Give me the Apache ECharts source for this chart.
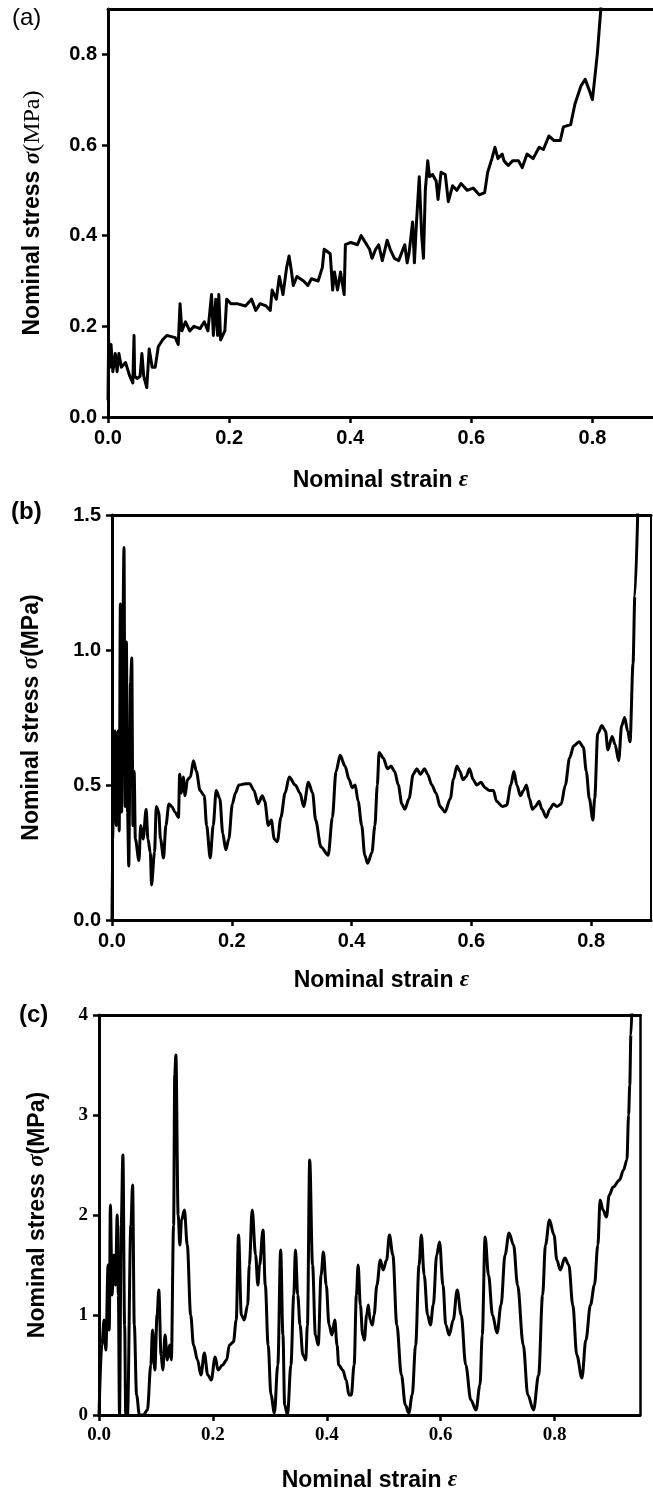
<!DOCTYPE html>
<html><head><meta charset="utf-8">
<script src="https://cdn.jsdelivr.net/npm/echarts@6/dist/echarts.min.js"></script>
<style>html,body{margin:0;padding:0;background:#fff}#c{width:653px;height:1493px}</style>
</head><body><div id="c"></div>
<script>
// ---- Panel (a) ----
const strainA = [0,0.001,0.003,0.005,0.008,0.012,0.015,0.018,0.022,0.029,0.036,0.041,0.043,0.044,0.048,0.053,0.056,0.059,0.064,0.068,0.073,0.078,0.083,0.09,0.097,0.111,0.116,0.119,0.122,0.128,0.135,0.142,0.152,0.159,0.165,0.171,0.174,0.178,0.181,0.183,0.186,0.193,0.196,0.203,0.213,0.227,0.237,0.244,0.251,0.261,0.268,0.271,0.278,0.283,0.289,0.295,0.299,0.302,0.306,0.312,0.323,0.33,0.336,0.347,0.354,0.357,0.367,0.371,0.374,0.379,0.384,0.39,0.392,0.401,0.412,0.418,0.425,0.432,0.436,0.442,0.447,0.453,0.461,0.466,0.473,0.48,0.49,0.494,0.497,0.503,0.506,0.509,0.514,0.518,0.521,0.524,0.528,0.531,0.536,0.542,0.545,0.55,0.557,0.562,0.569,0.576,0.583,0.593,0.603,0.613,0.622,0.627,0.634,0.639,0.644,0.651,0.654,0.661,0.668,0.678,0.684,0.692,0.702,0.712,0.719,0.728,0.736,0.747,0.752,0.764,0.771,0.781,0.788,0.795,0.8,0.808,0.815];
const stressA = [0.037,0.17,0.11,0.16,0.10,0.14,0.10,0.14,0.11,0.12,0.09,0.075,0.18,0.09,0.085,0.09,0.14,0.09,0.065,0.15,0.11,0.11,0.155,0.17,0.18,0.175,0.16,0.25,0.19,0.21,0.19,0.20,0.195,0.21,0.19,0.27,0.18,0.26,0.18,0.27,0.17,0.19,0.26,0.25,0.25,0.245,0.26,0.235,0.25,0.245,0.235,0.28,0.26,0.31,0.27,0.33,0.355,0.33,0.29,0.31,0.30,0.29,0.305,0.30,0.33,0.37,0.36,0.28,0.32,0.28,0.32,0.27,0.38,0.385,0.38,0.40,0.385,0.37,0.35,0.37,0.38,0.345,0.39,0.37,0.35,0.345,0.38,0.34,0.36,0.43,0.34,0.42,0.53,0.40,0.35,0.50,0.565,0.53,0.535,0.52,0.48,0.54,0.535,0.475,0.51,0.50,0.515,0.50,0.505,0.49,0.495,0.54,0.57,0.595,0.57,0.58,0.565,0.555,0.565,0.565,0.55,0.58,0.57,0.595,0.59,0.62,0.61,0.61,0.64,0.645,0.69,0.73,0.745,0.72,0.70,0.80,0.92];

// ---- Panel (b) ----
const strainB = [0,0.001,0.003,0.005,0.007,0.01,0.012,0.014,0.016,0.018,0.02,0.022,0.024,0.026,0.028,0.031,0.033,0.035,0.037,0.039,0.045,0.048,0.052,0.057,0.06,0.064,0.066,0.071,0.074,0.078,0.081,0.086,0.09,0.095,0.1,0.105,0.111,0.113,0.116,0.119,0.122,0.126,0.131,0.136,0.141,0.147,0.154,0.158,0.164,0.169,0.174,0.18,0.185,0.19,0.195,0.201,0.206,0.212,0.223,0.23,0.237,0.244,0.251,0.255,0.261,0.266,0.271,0.276,0.282,0.289,0.296,0.306,0.314,0.32,0.328,0.335,0.34,0.349,0.361,0.368,0.374,0.381,0.389,0.396,0.401,0.406,0.411,0.417,0.422,0.427,0.434,0.439,0.443,0.446,0.453,0.46,0.466,0.472,0.478,0.484,0.489,0.496,0.503,0.509,0.515,0.522,0.527,0.534,0.541,0.548,0.556,0.565,0.57,0.576,0.581,0.586,0.591,0.597,0.603,0.609,0.616,0.623,0.63,0.637,0.642,0.652,0.659,0.666,0.671,0.676,0.682,0.687,0.692,0.697,0.702,0.707,0.713,0.718,0.725,0.731,0.737,0.743,0.75,0.757,0.764,0.771,0.78,0.787,0.792,0.797,0.803,0.806,0.811,0.818,0.824,0.828,0.835,0.84,0.846,0.851,0.856,0.861,0.865,0.87,0.873,0.878];
const stressB = [0,0.3,0.5,0.7,0.35,0.7,0.33,1.17,0.4,1.05,1.38,0.42,1.03,0.4,0.2,0.88,0.97,0.35,0.55,0.3,0.22,0.35,0.3,0.41,0.3,0.25,0.13,0.25,0.42,0.4,0.3,0.23,0.35,0.43,0.42,0.4,0.38,0.54,0.47,0.53,0.46,0.52,0.53,0.59,0.55,0.48,0.46,0.35,0.23,0.35,0.48,0.45,0.32,0.26,0.3,0.43,0.47,0.5,0.505,0.505,0.48,0.43,0.46,0.44,0.35,0.37,0.3,0.29,0.38,0.47,0.53,0.5,0.47,0.42,0.51,0.47,0.37,0.27,0.24,0.38,0.55,0.61,0.57,0.52,0.49,0.5,0.44,0.35,0.24,0.21,0.25,0.35,0.5,0.62,0.6,0.56,0.57,0.55,0.5,0.43,0.41,0.45,0.54,0.56,0.54,0.56,0.54,0.5,0.47,0.42,0.4,0.45,0.52,0.57,0.55,0.52,0.53,0.56,0.52,0.5,0.51,0.49,0.48,0.48,0.44,0.42,0.425,0.5,0.55,0.5,0.46,0.48,0.5,0.45,0.41,0.42,0.44,0.41,0.38,0.41,0.43,0.42,0.43,0.5,0.6,0.645,0.66,0.64,0.55,0.45,0.37,0.45,0.69,0.72,0.7,0.63,0.68,0.65,0.59,0.72,0.75,0.7,0.66,0.95,1.2,1.52];

// ---- Panel (c) ----
const strainC = [0,0.005,0.009,0.012,0.016,0.018,0.02,0.023,0.026,0.029,0.032,0.034,0.036,0.039,0.042,0.045,0.047,0.05,0.056,0.059,0.062,0.066,0.071,0.078,0.085,0.091,0.094,0.098,0.102,0.105,0.109,0.112,0.116,0.12,0.124,0.127,0.131,0.133,0.135,0.139,0.142,0.145,0.15,0.155,0.161,0.166,0.173,0.179,0.185,0.191,0.197,0.204,0.209,0.217,0.224,0.229,0.236,0.241,0.245,0.25,0.255,0.261,0.264,0.269,0.275,0.279,0.282,0.288,0.292,0.297,0.302,0.308,0.314,0.319,0.323,0.326,0.331,0.337,0.342,0.345,0.349,0.353,0.358,0.363,0.366,0.37,0.375,0.38,0.385,0.39,0.394,0.399,0.404,0.409,0.414,0.418,0.421,0.428,0.434,0.439,0.443,0.448,0.452,0.455,0.459,0.463,0.466,0.47,0.473,0.476,0.48,0.483,0.488,0.494,0.499,0.505,0.51,0.516,0.523,0.531,0.538,0.544,0.55,0.556,0.562,0.566,0.571,0.577,0.582,0.587,0.593,0.598,0.604,0.609,0.615,0.622,0.629,0.636,0.644,0.653,0.662,0.669,0.673,0.678,0.684,0.691,0.699,0.706,0.713,0.72,0.728,0.735,0.745,0.753,0.763,0.772,0.779,0.784,0.791,0.799,0.804,0.81,0.818,0.825,0.832,0.839,0.848,0.855,0.863,0.87,0.876,0.88,0.885,0.891,0.896,0.903,0.914,0.921,0.927,0.93,0.932,0.934,0.936];
const stressC = [0,0.7,0.95,0.65,1.5,0.85,2.1,1.2,1.6,1.3,2.0,1.2,0,1.9,2.6,0.9,0,0,1.9,2.3,0.9,0.2,0,0,0.05,0.5,0.85,0.45,1.0,1.25,0.6,0.45,0.8,0.55,0.7,0.55,1.9,3.4,3.6,2.0,1.7,1.95,2.05,1.7,1.0,0.7,0.55,0.4,0.62,0.4,0.35,0.58,0.45,0.5,0.55,0.7,0.73,0.95,1.8,1.0,0.95,1.1,1.5,2.05,1.6,1.3,1.5,1.85,1.3,0.7,0.2,0.02,0.5,1.65,0.8,0.1,0,0.5,1.2,1.65,1.2,0.9,0.6,0.55,0.9,2.55,1.5,0.8,0.7,1.4,1.63,1.3,0.9,0.8,0.95,0.7,0.5,0.45,0.35,0.2,0.2,0.5,1.2,1.5,1.1,0.8,0.75,1.0,1.1,0.95,0.9,1.0,1.3,1.55,1.45,1.55,1.8,1.6,0.9,0.4,0.1,0.02,0.2,0.7,1.5,1.8,1.4,1.0,0.9,1.1,1.6,1.73,1.3,0.9,0.8,0.95,1.25,1.0,0.5,0.15,0.05,0.3,0.8,1.78,1.4,1.0,0.82,1.1,1.6,1.82,1.7,1.3,0.7,0.2,0.05,0.4,1.2,1.7,1.95,1.8,1.55,1.45,1.57,1.5,1.1,0.6,0.37,0.75,1.1,1.3,1.7,2.15,2.05,1.98,2.2,2.28,2.35,2.45,2.55,3.0,3.3,3.8,4.1];

// ---- Tick labels ----
const xTicks = [0, 0.2, 0.4, 0.6, 0.8];
const yTicksA = [0, 0.2, 0.4, 0.6, 0.8];
const yTicksB = [0, 0.5, 1.0, 1.5];
const yTicksC = [0, 1, 2, 3, 4];

const zip = (xs, ys) => xs.map((x, i) => [x, ys[i]]);

const SANS = '"Liberation Sans", Arial, sans-serif';
const SERIF = '"Liberation Serif", "Times New Roman", serif';
const NARROW = '"Liberation Sans Narrow", "Liberation Sans", Arial, sans-serif';

const xName = '{s|Nominal strain }{e|ε}';
const yNameA = '{s|Nominal stress }{e|σ}{m|(MPa)}';
const yNameBC = '{s|Nominal stress }{e|σ}{s|(MPa)}';
const titleRich = {
  s: {fontFamily: SANS, fontWeight: 'bold', fontSize: 23, color: '#000'},
  e: {fontFamily: SERIF, fontStyle: 'italic', fontWeight: 'bold', fontSize: 23, color: '#000'},
  m: {fontFamily: SERIF, fontWeight: 'normal', fontSize: 24, color: '#000'}
};

const grids = [
  {left: 108, top: 9, width: 547, height: 408},
  {left: 112, top: 515, width: 539, height: 405},
  {left: 99, top: 1015, width: 541, height: 402}
];

const axisLine = w => ({show: true, onZero: false, lineStyle: {color: '#000', width: w}});

function mainX(gi, max, gap, labelFont, fs) {
  return {
    type: 'value', gridIndex: gi, min: 0, max: max, position: 'bottom',
    axisLine: axisLine(3),
    axisTick: {show: true, inside: false, length: 6, lineStyle: {color: '#000', width: 2.5}, customValues: xTicks},
    axisLabel: {show: true, margin: 11, customValues: xTicks, formatter: v => v.toFixed(1),
      color: '#000', fontFamily: labelFont, fontWeight: 'bold', fontSize: fs},
    splitLine: {show: false},
    name: xName, nameLocation: 'middle', nameGap: gap,
    nameTextStyle: {rich: titleRich}
  };
}
function topX(gi, max, w) {
  return {type: 'value', gridIndex: gi, min: 0, max: max, position: 'top',
    axisLine: axisLine(w), axisTick: {show: false}, axisLabel: {show: false}, splitLine: {show: false}};
}
function mainY(gi, max, ticks, fmt, gap, name, labelFont, fs) {
  return {
    type: 'value', gridIndex: gi, min: 0, max: max, position: 'left',
    axisLine: axisLine(3),
    axisTick: {show: true, inside: false, length: 6, lineStyle: {color: '#000', width: 2.5}, customValues: ticks},
    axisLabel: {show: true, margin: 11, customValues: ticks, formatter: fmt,
      color: '#000', fontFamily: labelFont, fontWeight: 'bold', fontSize: fs},
    splitLine: {show: false},
    name: name, nameLocation: 'middle', nameGap: gap, nameRotate: 90,
    nameTextStyle: {rich: titleRich}
  };
}
function rightY(gi, max, w) {
  return {type: 'value', gridIndex: gi, min: 0, max: max, position: 'right',
    axisLine: axisLine(w), axisTick: {show: false}, axisLabel: {show: false}, splitLine: {show: false}};
}

const line = (xi, yi, data, smooth) => ({
  type: 'line', xAxisIndex: xi, yAxisIndex: yi, data: data, showSymbol: false, symbol: 'none',
  smooth: smooth, smoothMonotone: 'x', clip: true, animation: false,
  lineStyle: {color: '#000', width: 3, join: 'round'}
});

const chart = echarts.init(document.getElementById('c'), null, {renderer: 'canvas'});
chart.setOption({
  animation: false,
  backgroundColor: '#fff',
  grid: grids,
  xAxis: [
    mainX(0, 0.9, 52, NARROW, 20), topX(0, 0.9, 3),
    mainX(1, 0.9, 49, NARROW, 20), topX(1, 0.9, 3),
    mainX(2, 0.95, 54, SERIF, 19), topX(2, 0.95, 3)
  ],
  yAxis: [
    mainY(0, 0.9, yTicksA, v => v.toFixed(1), 63, yNameA, NARROW, 20),
    mainY(1, 1.5, yTicksB, v => v.toFixed(1), 69, yNameBC, NARROW, 20), rightY(1, 1.5, 2),
    mainY(2, 4, yTicksC, v => String(v), 50, yNameBC, SERIF, 19), rightY(2, 4, 2.5)
  ],
  series: [
    line(0, 0, zip(strainA, stressA), false),
    line(2, 1, zip(strainB, stressB), 0.3),
    line(4, 3, zip(strainC, stressC), 0.35)
  ],
  graphic: [
    {type: 'text', left: 12, top: 6, style: {text: '(a)', font: '24px "Liberation Sans", Arial, sans-serif', fill: '#000'}},
    {type: 'text', left: 11, top: 500, style: {text: '(b)', font: 'bold 24px "Liberation Sans", Arial, sans-serif', fill: '#000'}},
    {type: 'text', left: 19, top: 1003, style: {text: '(c)', font: 'bold 24px "Liberation Sans", Arial, sans-serif', fill: '#000'}}
  ]
});
</script></body></html>
